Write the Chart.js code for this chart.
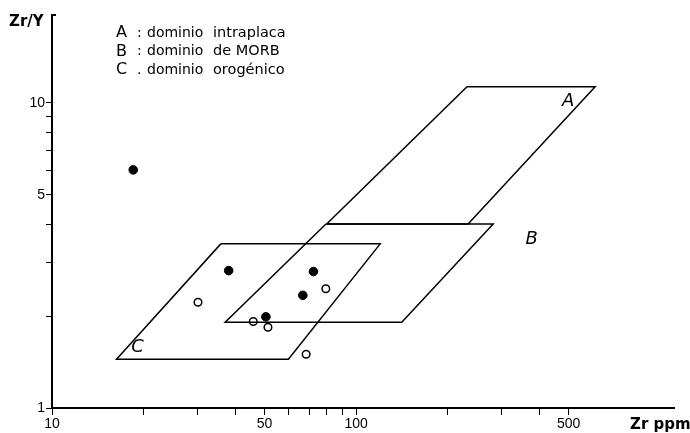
<!DOCTYPE html>
<html>
<head>
<meta charset="utf-8">
<script src="https://cdn.jsdelivr.net/npm/chart.js@4.4.1/dist/chart.umd.min.js"></script>
<style>
html,body{margin:0;padding:0;background:#fff;}
canvas{display:block;}
</style>
</head>
<body>
<canvas id="c" width="690" height="433"></canvas>
<script>
// ---- data ----
const fieldA_x = [80, 231.6, 611, 233.5, 80];
const fieldA_y = [4.01, 11.29, 11.29, 4.01, 4.01];
const fieldB_x = [79.6, 282.3, 141.3, 37.1, 79.6];
const fieldB_y = [4.01, 4.01, 1.91, 1.91, 4.01];
const fieldC_x = [35.9, 120, 59.9, 16.3, 35.9];
const fieldC_y = [3.45, 3.45, 1.445, 1.445, 3.45];

const filledX = [18.5, 38.1, 72.4, 66.8, 50.5];
const filledY = [6.03, 2.82, 2.80, 2.34, 1.99];
const openX = [30.2, 79.5, 45.9, 51.3, 68.5];
const openY = [2.22, 2.46, 1.92, 1.84, 1.50];

const fieldLabels = ['A', 'B', 'C'];
const fieldLabelX = [498, 378, 19.1];
const fieldLabelY = [10.1, 3.58, 1.58];

const legendKeys = ['A', 'B', 'C'];
const legendWord1 = ['dominio', 'dominio', 'dominio'];
const legendWord2 = ['intraplaca', 'de MORB', 'orogénico'];
const legendSep = [':', ':', '.'];

const xTicks = [10, 20, 30, 40, 50, 60, 70, 80, 90, 100, 200, 300, 400, 500];
const xLabeled = [10, 50, 100, 500];
const yTicks = [1, 2, 3, 4, 5, 6, 7, 8, 9, 10];
const yLabeled = [1, 5, 10];

const xTitle = 'Zr ppm';
const yTitle = 'Zr/Y';

// ---- build ----
const zip = (xs, ys) => xs.map((x, i) => ({x: x, y: ys[i]}));
const polyDS = (xs, ys) => ({
  data: zip(xs, ys), showLine: true, fill: false, borderColor: '#000',
  borderWidth: 1.5, pointRadius: 0, tension: 0
});

const textPlugin = {
  id: 'texts',
  afterDraw(chart) {
    const ctx = chart.ctx;
    const xs = chart.scales.x, ys = chart.scales.y;
    ctx.save();
    ctx.fillStyle = '#000';
    // field labels
    ctx.font = 'italic 18px "DejaVu Sans"';
    ctx.textAlign = 'center';
    ctx.textBaseline = 'middle';
    fieldLabels.forEach((t, i) => {
      ctx.fillText(t, xs.getPixelForValue(fieldLabelX[i]), ys.getPixelForValue(fieldLabelY[i]));
    });
    // legend
    ctx.textAlign = 'left';
    ctx.textBaseline = 'middle';
    legendKeys.forEach((k, i) => {
      const yy = 33 + i * 18.5;
      ctx.font = '16px "DejaVu Sans"';
      ctx.fillText(k, 116, yy);
      ctx.font = '14px "DejaVu Sans"';
      ctx.fillText(legendSep[i], 137, yy);
      ctx.fillText(legendWord1[i], 147, yy);
      ctx.font = '14.5px "DejaVu Sans"';
      ctx.fillText(legendWord2[i], 213, yy);
    });
    // axis titles
    ctx.font = 'bold 15px "DejaVu Sans"';
    ctx.textAlign = 'left';
    ctx.fillText(yTitle, 9, 22);
    ctx.fillText(xTitle, 630, 425);
    // top bracket of y axis
    ctx.strokeStyle = '#000';
    ctx.lineWidth = 2;
    ctx.beginPath();
    const yt = ys.getPixelForValue(ys.max);
    ctx.moveTo(xs.left, yt);
    ctx.lineTo(xs.left + 4, yt);
    ctx.stroke();
    ctx.restore();
  }
};

new Chart(document.getElementById('c'), {
  type: 'scatter',
  data: {
    datasets: [
      polyDS(fieldA_x, fieldA_y),
      polyDS(fieldB_x, fieldB_y),
      polyDS(fieldC_x, fieldC_y),
      {data: zip(filledX, filledY), pointRadius: 4.3, pointBackgroundColor: '#000',
       pointBorderColor: '#000', pointBorderWidth: 1, showLine: false},
      {data: zip(openX, openY), pointRadius: 3.8, pointBackgroundColor: '#fff',
       pointBorderColor: '#000', pointBorderWidth: 1.5, showLine: false}
    ]
  },
  options: {
    responsive: false,
    animation: false,
    devicePixelRatio: 1,
    layout: {padding: {top: 15, right: 16, left: 0, bottom: 0}},
    plugins: {legend: {display: false}, tooltip: {enabled: false}},
    scales: {
      x: {
        type: 'logarithmic', min: 10, max: 1110,
        afterBuildTicks: s => { s.ticks = xTicks.map(v => ({value: v})); },
        afterFit: s => { s.height = 25; },
        grid: {drawOnChartArea: false, drawTicks: true, tickLength: 7, color: '#000', lineWidth: 1},
        border: {display: true, color: '#000', width: 2},
        ticks: {
          autoSkip: false, maxRotation: 0, padding: 1, color: '#000',
          font: {family: '"Liberation Sans"', size: 14},
          callback: v => xLabeled.includes(v) ? String(v) : ''
        }
      },
      y: {
        type: 'logarithmic', min: 1, max: 19.4,
        afterBuildTicks: s => { s.ticks = yTicks.map(v => ({value: v})); },
        afterFit: s => { s.width = 52; },
        grid: {drawOnChartArea: false, drawTicks: true, tickLength: 6, color: '#000', lineWidth: 1},
        border: {display: true, color: '#000', width: 2},
        ticks: {
          autoSkip: false, padding: 1, color: '#000',
          font: {family: '"Liberation Sans"', size: 14},
          callback: v => yLabeled.includes(v) ? String(v) : ''
        }
      }
    }
  },
  plugins: [textPlugin]
});
</script>
</body>
</html>
